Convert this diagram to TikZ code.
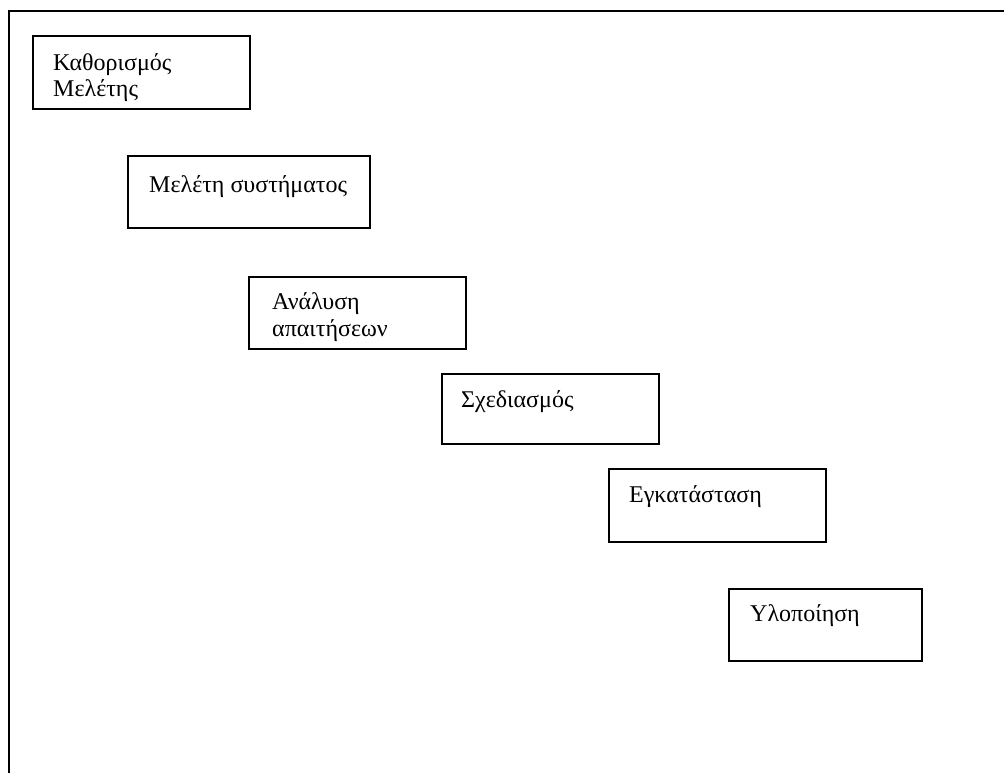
\documentclass[tikz,border=0pt]{standalone}
\usepackage{fontspec}
\setmainfont{Liberation Serif}
\begin{document}
\begin{tikzpicture}[x=1pt,y=-1pt,
  stagebox/.style={draw=black, line width=1.6pt, rectangle, inner sep=0pt,
    anchor=north west, minimum width=#1},
  stagebox/.default=217pt,
  % the base anchor of a two-line label sits on its last line
  stagetext/.style={anchor=base west, inner sep=0pt, align=left,
    font=\fontsize{24}{26.5}\selectfont}]
  \useasboundingbox (0,0) rectangle (1004,773);
  % page frame (cut at right and bottom)
  \coordinate (fbl) at (9,773);
  \coordinate (ftl) at (9,11);
  \coordinate (ftr) at (1004,11);
  \draw[line width=1.8pt] (fbl) -- (ftl) -- (ftr);
  % stages
  \node[stagebox=217pt, minimum height=73pt] (s1) at (32,35) {};
  \node[stagetext] (t1) at ([xshift=21pt,yshift=-62pt]s1.north west) {Καθορισμός\\Μελέτης};
  \node[stagebox=242pt, minimum height=72pt] (s2) at (127,155) {};
  \node[stagetext] (t2) at ([xshift=22pt,yshift=-38pt]s2.north west) {Μελέτη συστήματος};
  \node[stagebox=217pt, minimum height=72pt] (s3) at (248,276) {};
  \node[stagetext] (t3) at ([xshift=24pt,yshift=-60pt]s3.north west) {Ανάλυση\\απαιτήσεων};
  \node[stagebox=217pt, minimum height=70pt] (s4) at (441,373) {};
  \node[stagetext] (t4) at ([xshift=20pt,yshift=-34pt]s4.north west) {Σχεδιασμός};
  \node[stagebox=217pt, minimum height=73pt] (s5) at (608,468) {};
  \node[stagetext] (t5) at ([xshift=21pt,yshift=-34pt]s5.north west) {Εγκατάσταση};
  \node[stagebox=193pt, minimum height=72pt] (s6) at (728,588) {};
  \node[stagetext] (t6) at ([xshift=22pt,yshift=-33pt]s6.north west) {Υλοποίηση};
\end{tikzpicture}
\end{document}
